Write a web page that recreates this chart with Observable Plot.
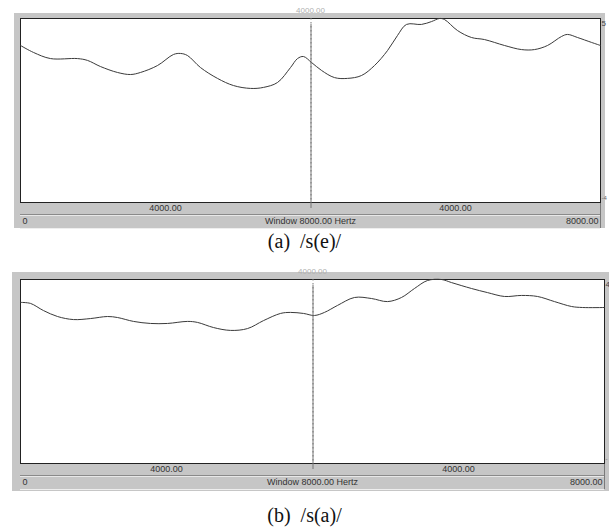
<!DOCTYPE html>
<html>
<head>
<meta charset="utf-8">
<script src="https://cdn.jsdelivr.net/npm/d3@7"></script>
<script src="https://cdn.jsdelivr.net/npm/@observablehq/plot@0.6"></script>
<style>
  html, body { margin: 0; padding: 0; background: #fff; }
  #root { position: relative; width: 609px; height: 527px; overflow: hidden; }
  .abs { position: absolute; }
  .gray { background: #c6c6c6; }
  .cap { font-family: "Liberation Serif", "DejaVu Serif", serif; font-size: 20px; color: #111; text-align: center; width: 609px; left: 0; white-space: pre; }
</style>
</head>
<body>
<div id="root"></div>
<script>
// ---- data (frequency in Hz, level in dB) ----
const freqA = [0, 179, 414, 786, 924, 1103, 1338, 1517, 1655, 1890, 2110, 2207, 2303, 2483, 2717, 2938, 3172, 3352, 3545, 3724, 3821, 3903, 4014, 4152, 4331, 4510, 4703, 4883, 5062, 5200, 5324, 5531, 5669, 5779, 5848, 6028, 6221, 6400, 6676, 6910, 7090, 7269, 7462, 7545, 7683, 7876, 8000];
const dbA   = [36.8, 33.4, 30.4, 30.4, 29.5, 26.5, 23.6, 22.6, 23.6, 27.0, 32.4, 32.9, 31.9, 26.0, 20.7, 17.2, 15.8, 16.3, 18.7, 26.0, 30.4, 31.4, 28.5, 24.6, 21.1, 20.7, 22.1, 27.0, 34.3, 41.7, 47.1, 47.1, 48.5, 50.0, 49.5, 44.1, 40.7, 39.7, 36.8, 34.8, 34.8, 36.8, 41.2, 42.2, 40.7, 38.3, 36.8];

const freqB = [0, 137, 315, 507, 726, 959, 1192, 1329, 1548, 1781, 2014, 2288, 2425, 2644, 2877, 3110, 3329, 3562, 3699, 3877, 4027, 4164, 4342, 4575, 4808, 5027, 5219, 5397, 5575, 5767, 5904, 6178, 6397, 6630, 6863, 7082, 7315, 7548, 7699, 8000];
const dbB   = [28.8, 28.3, 24.8, 21.9, 20.4, 20.9, 21.9, 21.4, 19.5, 18.5, 18.5, 19.5, 19.0, 16.5, 15.1, 16.0, 19.9, 23.4, 23.9, 23.4, 22.4, 23.9, 27.3, 31.2, 30.7, 29.2, 31.2, 35.6, 39.5, 40.0, 38.5, 35.6, 33.6, 31.7, 32.2, 31.7, 29.2, 26.8, 26.3, 26.3];

const windowHz = 8000;
const cursorHz = 4000;
const halfLabelPos = [2000, 6000];
const halfLabels = ["4000.00", "4000.00"];
const cursorLabel = "4000.00";
const leftLabel = "0";
const centerLabel = "Window 8000.00 Hertz";
const rightLabel = "8000.00";
const domainA = [-40, 50];
const domainB = [-50, 40];
const rightTopA = "5", rightBottomA = "-4";
const rightTopB = "4", rightBottomB = "-";
const captionA = "(a)  /s(e)/";
const captionB = "(b)  /s(a)/";

const root = document.getElementById("root");

function div(cls, style, text) {
  const d = document.createElement("div");
  d.className = cls;
  Object.assign(d.style, style);
  if (text != null) d.textContent = text;
  return d;
}

function panel(o) {
  const wrap = div("abs", {left: "0px", top: o.top + "px", width: "609px", height: "266px"});
  wrap.appendChild(div("abs gray", {left: o.fl + "px", top: o.ft + "px", width: (o.fr - o.fl) + "px", height: (o.fb - o.ft) + "px"}));
  wrap.appendChild(div("abs", {left: "20px", top: (o.pb + 12) + "px", width: (o.pr - 20) + "px", height: "1px", background: "#8a8a8a"}));
  wrap.appendChild(div("abs", {left: "20px", top: (o.pb + 13) + "px", width: (o.pr - 20) + "px", height: "1px", background: "#e8e8e8"}));
  wrap.appendChild(div("abs", {left: o.pr + "px", top: o.pb + "px", width: "1px", height: "26px", background: "#7a7a7a"}));
  wrap.appendChild(div("abs", {left: "20px", top: (o.pb + 26) + "px", width: (o.pr - 20) + "px", height: "1px", background: "#eeeeee"}));

  const data = o.freq.map((f, i) => ({f, db: o.db[i]}));
  const txt = {fontFamily: "Liberation Sans, Arial, sans-serif", fontSize: 9, fill: "#333"};
  const p = Plot.plot({
    width: 609,
    height: o.pb + 28,
    marginTop: o.pt,
    marginLeft: 20,
    marginRight: 609 - o.pr,
    marginBottom: 28,
    x: {domain: [0, windowHz], axis: null},
    y: {domain: o.domain, axis: null},
    style: {background: "transparent", overflow: "visible", position: "absolute", left: "0px", top: "0px", zIndex: 1},
    marks: [
      Plot.frame({fill: "white", stroke: "#222"}),
      Plot.ruleX([cursorHz], {stroke: "#777", strokeDasharray: "1.5,2.5", strokeWidth: 1, dx: 0.5}),
      Plot.line(data, {x: "f", y: "db", curve: "catmull-rom", stroke: "#3a3a3a", strokeWidth: 1}),
      Plot.tickX([cursorHz], {frameAnchor: "bottom", stroke: "#777", dy: 6, dx: 0.5}),
      Plot.text(halfLabelPos, {x: d => d, text: (d, i) => halfLabels[i], frameAnchor: "bottom", dy: 6, lineAnchor: "middle", ...txt}),
      Plot.text([0], {x: d => d, text: () => leftLabel, frameAnchor: "bottom", dy: 19, dx: 2, textAnchor: "start", lineAnchor: "middle", ...txt}),
      Plot.text([cursorHz], {x: d => d, text: () => centerLabel, frameAnchor: "bottom", dy: 19, lineAnchor: "middle", ...txt}),
      Plot.text([windowHz], {x: d => d, text: () => rightLabel, frameAnchor: "bottom", dy: 19, dx: -2, textAnchor: "end", lineAnchor: "middle", ...txt}),
      Plot.text([cursorHz], {x: d => d, text: () => cursorLabel, frameAnchor: "top", dy: -8, lineAnchor: "middle", fontFamily: "Liberation Sans, Arial, sans-serif", fontSize: 8, fill: "#b0b0b0"}),
      Plot.text([o.rt], {frameAnchor: "top-right", dx: 1, dy: 5, textAnchor: "start", lineAnchor: "middle", text: d => d, fontFamily: "Liberation Sans, Arial, sans-serif", fontSize: 8, fill: "#444"}),
      Plot.text([o.rb], {frameAnchor: "bottom-right", dx: 1, dy: -4, textAnchor: "start", lineAnchor: "middle", text: d => d, fontFamily: "Liberation Sans, Arial, sans-serif", fontSize: 6, fill: "#666"})
    ]
  });
  wrap.appendChild(p);
  wrap.appendChild(div("abs cap", {top: o.capTop + "px"}, o.caption));
  root.appendChild(wrap);
}

panel({top: 0, fl: 14, ft: 13, fr: 605, fb: 228, pt: 18, pb: 202, pr: 600,
       freq: freqA, db: dbA, domain: domainA, rt: rightTopA, rb: rightBottomA,
       caption: captionA, capTop: 230});
panel({top: 261, fl: 12, ft: 11, fr: 609, fb: 230, pt: 18, pb: 202, pr: 604,
       freq: freqB, db: dbB, domain: domainB, rt: rightTopB, rb: rightBottomB,
       caption: captionB, capTop: 243});
</script>
</body>
</html>
